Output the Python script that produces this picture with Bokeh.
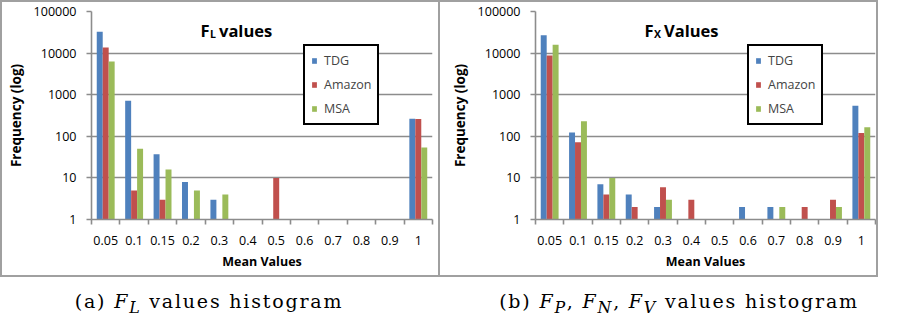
from bokeh.plotting import figure
from bokeh.models import (ColumnDataSource, Range1d, FixedTicker, BasicTickFormatter,
                          CustomJSTickFormatter, Legend, LegendItem, Label, Div)
from bokeh.layouts import row, column
from bokeh.transform import dodge
from bokeh.embed import file_html
from bokeh.resources import INLINE

categories = ["0.05", "0.1", "0.15", "0.2", "0.3", "0.4", "0.5", "0.6", "0.7", "0.8", "0.9", "1"]
series_names = ["TDG", "Amazon", "MSA"]
colors = ["#4F81BD", "#C0504D", "#9BBB59"]

# panel (a): F_L values
fl_tdg = [32500, 720, 37, 8, 3, 0, 0, 0, 0, 0, 0, 263]
fl_amazon = [13600, 5, 3, 0, 0, 0, 10, 0, 0, 0, 0, 260]
fl_msa = [6300, 50, 16, 5, 4, 0, 0, 0, 0, 0, 0, 54]

# panel (b): F_X values
fx_tdg = [27000, 124, 7, 4, 2, 0, 0, 2, 2, 0, 0, 540]
fx_amazon = [8800, 72, 4, 2, 6, 3, 0, 0, 0, 2, 3, 120]
fx_msa = [15800, 230, 10, 0, 3, 0, 0, 0, 2, 0, 2, 166]

y_ticks = [1, 10, 100, 1000, 10000, 100000]

FONT = "Open Sans"
GRID = "#8c8c8c"
BORDER = "2px solid #a0a0a0"
PH = 277


def make_panel(series, title_main, title_sub, title_rest, sub_dx, rest_dx,
               width, mb_left, mb_right, border_styles):
    centers = [i + 0.5 for i in range(len(categories))]
    data = {"xc": centers}
    for name, vals in zip(series_names, series):
        data[name] = [v if v > 0 else 1 for v in vals]
    src = ColumnDataSource(data)

    p = figure(width=width, height=PH, output_backend="svg", toolbar_location=None,
               y_axis_type="log", x_range=Range1d(0, len(categories)),
               y_range=Range1d(1, 100000),
               min_border_left=mb_left, min_border_right=mb_right,
               min_border_top=9, min_border_bottom=60,
               styles=border_styles)
    p.outline_line_color = None
    p.xgrid.grid_line_color = None
    p.ygrid.ticker = FixedTicker(ticks=y_ticks)
    p.ygrid.grid_line_color = GRID
    p.ygrid.grid_line_width = 1.6

    renderers = []
    for k, (name, col) in enumerate(zip(series_names, colors)):
        r = p.vbar(x=dodge("xc", (k - 1) * 0.21, range=p.x_range), top=name, bottom=1,
                   width=0.21, source=src, fill_color=col, line_color=None)
        renderers.append(r)

    # y axis
    ya = p.yaxis[0]
    ya.ticker = FixedTicker(ticks=y_ticks)
    ya.formatter = BasicTickFormatter(use_scientific=False)
    ya.axis_line_color = GRID
    ya.axis_line_width = 1.6
    ya.major_tick_line_color = GRID
    ya.major_tick_line_width = 1.6
    ya.major_tick_in = 0
    ya.major_tick_out = 5
    ya.minor_tick_line_color = None
    ya.major_label_text_font = FONT
    ya.major_label_text_font_size = "12.5px"
    ya.major_label_text_color = "black"
    ya.major_label_standoff = 10
    ya.axis_label = "Frequency (log)"
    ya.axis_label_text_font = FONT
    ya.axis_label_text_font_style = "bold"
    ya.axis_label_text_font_size = "13.5px"
    ya.axis_label_text_color = "black"
    ya.axis_label_standoff = 6

    # x axis: labels at category centres, tick marks at boundaries
    xa = p.xaxis[0]
    xa.ticker = FixedTicker(ticks=centers, minor_ticks=list(range(len(categories) + 1)))
    xa.formatter = CustomJSTickFormatter(args=dict(labels=categories),
                                         code="const i = Math.floor(tick); return (i >= 0 && i < labels.length) ? labels[i] : '';")
    xa.axis_line_color = GRID
    xa.axis_line_width = 1.6
    xa.major_tick_line_color = None
    xa.major_tick_in = 0
    xa.major_tick_out = 0
    xa.minor_tick_line_color = GRID
    xa.minor_tick_line_width = 1.6
    xa.minor_tick_in = 0
    xa.minor_tick_out = 5
    xa.major_label_text_font = FONT
    xa.major_label_text_font_size = "12.5px"
    xa.major_label_text_color = "black"
    xa.major_label_standoff = 11
    xa.axis_label = "Mean Values"
    xa.axis_label_text_font = FONT
    xa.axis_label_text_font_style = "bold"
    xa.axis_label_text_font_size = "12.5px"
    xa.axis_label_text_color = "black"
    xa.axis_label_standoff = 5

    # legend
    legend = Legend(items=[LegendItem(label=n, renderers=[r]) for n, r in zip(series_names, renderers)],
                    location=(212, 94), margin=0, padding=6, spacing=7,
                    glyph_width=6, glyph_height=7, label_standoff=7, label_height=13,
                    label_text_font=FONT, label_text_font_size="12.5px",
                    border_line_color="black", border_line_width=2, border_line_alpha=1,
                    background_fill_color="white", background_fill_alpha=1)
    p.add_layout(legend)

    # chart title with subscript
    fx = 109
    p.add_layout(Label(x=0, y=100000, x_offset=fx, y_offset=-19, text=title_main,
                       text_font=FONT, text_font_style="bold", text_font_size="16.5px",
                       text_baseline="alphabetic", text_color="black"))
    p.add_layout(Label(x=0, y=100000, x_offset=fx + sub_dx, y_offset=-22, text=title_sub,
                       text_font=FONT, text_font_style="bold", text_font_size="10.5px",
                       text_baseline="alphabetic", text_color="black"))
    p.add_layout(Label(x=0, y=100000, x_offset=fx + rest_dx, y_offset=-19, text=title_rest,
                       text_font=FONT, text_font_style="bold", text_font_size="16.5px",
                       text_baseline="alphabetic", text_color="black"))
    return p


p1 = make_panel([fl_tdg, fl_amazon, fl_msa], "F", "L", "values", 9.5, 18.5,
                440, 89, 10, {"border": BORDER})
p2 = make_panel([fx_tdg, fx_amazon, fx_msa], "F", "X", "Values", 9.5, 19.5,
                438, 95, 3, {"border-top": BORDER, "border-right": BORDER, "border-bottom": BORDER})

cap_style = ("font-family:'DejaVu Serif'; font-size:19px; letter-spacing:1.8px; "
             "text-align:center; color:black; padding-top:6px;")
cap1 = Div(text=f"<div style=\"{cap_style} width:426px; padding-right:18px;\">(a) <i>F<sub>L</sub></i> values histogram</div>",
           width=444, height=30)
cap2 = Div(text=f"<div style=\"{cap_style} width:440px;\">(b) <i>F<sub>P</sub></i>, <i>F<sub>N</sub></i>, <i>F<sub>V</sub></i> values histogram</div>",
           width=440, height=30)

layout = column(row(p1, p2, spacing=0), row(cap1, cap2, spacing=0), spacing=0)

open("out.html", "w").write(file_html(layout, INLINE))
